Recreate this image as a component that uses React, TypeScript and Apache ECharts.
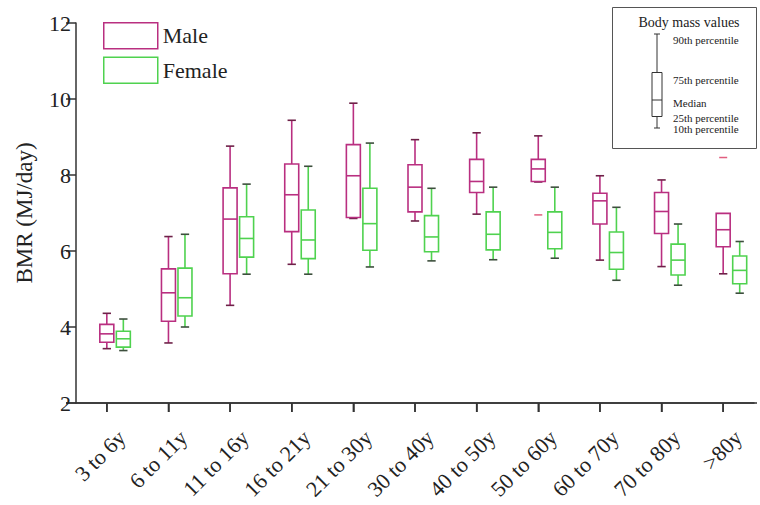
import React, { useEffect, useRef } from "react";
import * as echarts from "echarts";

const categories = ["3 to 6y", "6 to 11y", "11 to 16y", "16 to 21y", "21 to 30y", "30 to 40y", "40 to 50y", "50 to 60y", "60 to 70y", "70 to 80y", ">80y"];

const maleP10 = [3.43, 3.58, 4.57, 5.65, 6.87, 6.79, 6.97, 7.83, 5.76, 5.59, 5.40];
const maleP25 = [3.60, 4.15, 5.40, 6.51, 6.88, 7.03, 7.54, 7.83, 6.71, 6.46, 6.11];
const maleMedian = [3.82, 4.90, 6.84, 7.48, 7.98, 7.68, 7.83, 8.16, 7.32, 7.04, 6.56];
const maleP75 = [4.07, 5.53, 7.66, 8.29, 8.80, 8.27, 8.41, 8.41, 7.52, 7.54, 6.99];
const maleP90 = [4.36, 6.38, 8.76, 9.44, 9.89, 8.93, 9.11, 9.03, 7.98, 7.87, 6.99];

const femaleP10 = [3.38, 4.00, 5.39, 5.39, 5.58, 5.74, 5.77, 5.81, 5.23, 5.10, 4.89];
const femaleP25 = [3.47, 4.29, 5.84, 5.80, 6.02, 5.98, 6.03, 6.06, 5.52, 5.37, 5.14];
const femaleMedian = [3.69, 4.77, 6.33, 6.29, 6.72, 6.37, 6.44, 6.49, 5.96, 5.76, 5.49];
const femaleP75 = [3.89, 5.55, 6.90, 7.08, 7.65, 6.93, 7.03, 7.03, 6.50, 6.18, 5.87];
const femaleP90 = [4.21, 6.44, 7.76, 8.23, 8.84, 7.65, 7.68, 7.68, 7.15, 6.71, 6.25];

// stray male percentile marks drawn without whisker lines
const maleDetachedCats = [7, 10];
const maleDetachedValues = [6.95, 8.46];

const yTicks = [2, 4, 6, 8, 10, 12];

const MALE = "#b92f80";
const MALE_CAP = "#6e2148";
const FEMALE = "#4fd24f";
const FEMALE_CAP = "#3d4f3d";
const AXIS = "#333";
const FONT = "'Liberation Serif', 'DejaVu Serif', serif";

function buildData(p10: number[], p25: number[], med: number[], p75: number[], p90: number[]) {
  return categories.map((_, i) => [i, p10[i], p25[i], med[i], p75[i], p90[i]]);
}

function makeRender(offsetFrac: number, color: string, capColor: string) {
  return (params: any, api: any) => {
    const idx = api.value(0);
    const band = api.size([1, 0])[0];
    const cx = api.coord([idx, 0])[0] + offsetFrac * band;
    const y = (v: number) => api.coord([idx, v])[1];
    const yLow = y(api.value(1));
    const yQ1 = y(api.value(2));
    const yMed = y(api.value(3));
    const yQ3 = y(api.value(4));
    const yHigh = y(api.value(5));
    const bw = band * 0.227;
    const cw = band * 0.135;
    const lw = 1.6;
    const children: any[] = [];
    if (Math.abs(yHigh - yQ3) > 0.5) {
      children.push({ type: "line", shape: { x1: cx, y1: yQ3, x2: cx, y2: yHigh }, style: { stroke: color, lineWidth: lw } });
      children.push({ type: "line", shape: { x1: cx - cw / 2, y1: yHigh, x2: cx + cw / 2, y2: yHigh }, style: { stroke: capColor, lineWidth: lw } });
    }
    if (Math.abs(yLow - yQ1) > 0.5) {
      children.push({ type: "line", shape: { x1: cx, y1: yQ1, x2: cx, y2: yLow }, style: { stroke: color, lineWidth: lw } });
      children.push({ type: "line", shape: { x1: cx - cw / 2, y1: yLow, x2: cx + cw / 2, y2: yLow }, style: { stroke: capColor, lineWidth: lw } });
    } else {
      children.push({ type: "line", shape: { x1: cx - cw / 2, y1: yLow + 0.5, x2: cx + cw / 2, y2: yLow + 0.5 }, style: { stroke: capColor, lineWidth: lw } });
    }
    children.push({
      type: "rect",
      shape: { x: cx - bw / 2, y: yQ3, width: bw, height: yQ1 - yQ3 },
      style: { fill: "none", stroke: color, lineWidth: lw },
    });
    children.push({ type: "line", shape: { x1: cx - bw / 2, y1: yMed, x2: cx + bw / 2, y2: yMed }, style: { stroke: color, lineWidth: lw } });
    return { type: "group", children };
  };
}

export default function App() {
  const ref = useRef<HTMLDivElement>(null);
  useEffect(() => {
    if (!ref.current) return;
    const chart = echarts.init(ref.current, null, { renderer: "svg" });
    const iconX = 657;
    const legendBox = {
      type: "group",
      children: [
        { type: "rect", shape: { x: 612.5, y: 7.5, width: 144, height: 141 }, style: { fill: "#fff", stroke: "#555", lineWidth: 1 } },
        { type: "text", x: 689, y: 22, style: { text: "Body mass values", font: `14px ${FONT}`, fill: "#222", textAlign: "center", textVerticalAlign: "middle" } },
        { type: "line", shape: { x1: iconX, y1: 34, x2: iconX, y2: 72.5 }, style: { stroke: "#333", lineWidth: 1 } },
        { type: "line", shape: { x1: iconX - 3, y1: 34, x2: iconX + 3, y2: 34 }, style: { stroke: "#333", lineWidth: 1 } },
        { type: "rect", shape: { x: iconX - 5, y: 72.5, width: 10, height: 44 }, style: { fill: "none", stroke: "#333", lineWidth: 1 } },
        { type: "line", shape: { x1: iconX - 5, y1: 100, x2: iconX + 5, y2: 100 }, style: { stroke: "#333", lineWidth: 1 } },
        { type: "line", shape: { x1: iconX, y1: 116.5, x2: iconX, y2: 128 }, style: { stroke: "#333", lineWidth: 1 } },
        { type: "line", shape: { x1: iconX - 3, y1: 128, x2: iconX + 3, y2: 128 }, style: { stroke: "#333", lineWidth: 1 } },
        { type: "text", x: 673, y: 40, style: { text: "90th percentile", font: `11px ${FONT}`, fill: "#222", textVerticalAlign: "middle" } },
        { type: "text", x: 673, y: 80, style: { text: "75th percentile", font: `11px ${FONT}`, fill: "#222", textVerticalAlign: "middle" } },
        { type: "text", x: 673, y: 103, style: { text: "Median", font: `11px ${FONT}`, fill: "#222", textVerticalAlign: "middle" } },
        { type: "text", x: 673, y: 118, style: { text: "25th percentile", font: `11px ${FONT}`, fill: "#222", textVerticalAlign: "middle" } },
        { type: "text", x: 673, y: 129, style: { text: "10th percentile", font: `11px ${FONT}`, fill: "#222", textVerticalAlign: "middle" } },
      ],
    };
    chart.setOption({
      animation: false,
      backgroundColor: "#ffffff",
      textStyle: { fontFamily: FONT },
      grid: [
        { left: 76, width: 678, top: 23, bottom: 102, containLabel: false, outerBoundsMode: "none" },
        { left: 91, width: 678, top: 23, bottom: 102, containLabel: false, outerBoundsMode: "none" },
      ],
      legend: {
        orient: "vertical",
        left: 98,
        top: 17,
        itemWidth: 54,
        itemHeight: 26,
        itemGap: 7,
        textStyle: { fontFamily: FONT, fontSize: 22, color: "#222" },
        data: [
          { name: "Male", icon: "rect", itemStyle: { color: "rgba(255,255,255,0)", borderColor: MALE, borderWidth: 1.5 } },
          { name: "Female", icon: "rect", itemStyle: { color: "rgba(255,255,255,0)", borderColor: FEMALE, borderWidth: 1.5 } },
        ],
      },
      xAxis: [
        {
          gridIndex: 0,
          type: "category",
          data: categories,
          boundaryGap: true,
          position: "bottom",
          axisLine: { show: true, onZero: false, lineStyle: { color: AXIS, width: 1.5 } },
          axisTick: { show: true, alignWithLabel: true, length: 9, lineStyle: { color: AXIS, width: 1.5 } },
          axisLabel: { show: false },
          splitLine: { show: false },
        },
        {
          gridIndex: 1,
          type: "category",
          data: categories,
          boundaryGap: true,
          position: "bottom",
          offset: 23,
          axisLine: { show: false, onZero: false },
          axisTick: { show: false },
          axisLabel: {
            rotate: 45,
            interval: 0,
            hideOverlap: false,
            fontSize: 22,
            fontFamily: FONT,
            color: "#222",
            margin: 8,
          },
          splitLine: { show: false },
        },
      ],
      yAxis: [
        {
          gridIndex: 0,
          type: "value",
          min: 2,
          max: 12,
          interval: 2,
          name: "BMR (MJ/day)",
          nameLocation: "middle",
          nameGap: 40,
          nameRotate: 90,
          nameTextStyle: { fontFamily: FONT, fontSize: 23, color: "#222" },
          axisLine: { show: true, lineStyle: { color: AXIS, width: 1.5 } },
          axisTick: { show: true, length: 10, lineStyle: { color: AXIS, width: 1.5 } },
          axisLabel: {
            fontSize: 22,
            fontFamily: FONT,
            color: "#222",
            margin: 5,
            formatter: (v: number) => (yTicks.includes(v) ? String(v) : ""),
          },
          splitLine: { show: false },
        },
        {
          gridIndex: 1,
          type: "value",
          min: 2,
          max: 12,
          interval: 2,
          show: false,
        },
      ],
      graphic: [legendBox],
      series: [
        {
          name: "Male",
          type: "custom",
          xAxisIndex: 0,
          yAxisIndex: 0,
          itemStyle: { color: MALE },
          encode: { x: 0, y: [1, 2, 3, 4, 5] },
          data: buildData(maleP10, maleP25, maleMedian, maleP75, maleP90),
          renderItem: makeRender(0, MALE, MALE_CAP),
          z: 3,
        },
        {
          name: "Female",
          type: "custom",
          xAxisIndex: 0,
          yAxisIndex: 0,
          itemStyle: { color: FEMALE },
          encode: { x: 0, y: [1, 2, 3, 4, 5] },
          data: buildData(femaleP10, femaleP25, femaleMedian, femaleP75, femaleP90),
          renderItem: makeRender(0.268, FEMALE, FEMALE_CAP),
          z: 3,
        },
        {
          name: "Male marks",
          type: "scatter",
          xAxisIndex: 0,
          yAxisIndex: 0,
          symbol: "rect",
          symbolSize: [8, 1.5],
          itemStyle: { color: "#d9365f" },
          data: maleDetachedCats.map((c, i) => [c, maleDetachedValues[i]]),
          z: 4,
        },
      ],
    });

    // x axis baseline and ticks, placed through the chart's own category scale
    try {
      const pts = categories.map((_, i) => chart.convertToPixel({ xAxisIndex: 0, yAxisIndex: 0 }, [i, yTicks[0]]) as number[]);
      if (pts.length > 1 && pts.every((p) => p && isFinite(p[0]) && isFinite(p[1]))) {
        const band = pts[1][0] - pts[0][0];
        const yb = pts[0][1];
        const axisChildren: any[] = [
          { type: "line", shape: { x1: pts[0][0] - band / 2 - 10, y1: yb, x2: pts[pts.length - 1][0] + band / 2 + 3, y2: yb }, style: { stroke: AXIS, lineWidth: 1.5 } },
        ];
        pts.forEach((p) => {
          axisChildren.push({ type: "line", shape: { x1: p[0], y1: yb, x2: p[0], y2: yb + 9 }, style: { stroke: AXIS, lineWidth: 1.5 } });
        });
        chart.setOption({ graphic: [legendBox, { type: "group", z: 100, children: axisChildren }] });
      }
    } catch (e) {
      // keep the chart as drawn
    }
    return () => chart.dispose();
  }, []);
  return <div ref={ref} style={{ position: "fixed", left: 0, top: 0, width: 760, height: 505 }} />;
}
